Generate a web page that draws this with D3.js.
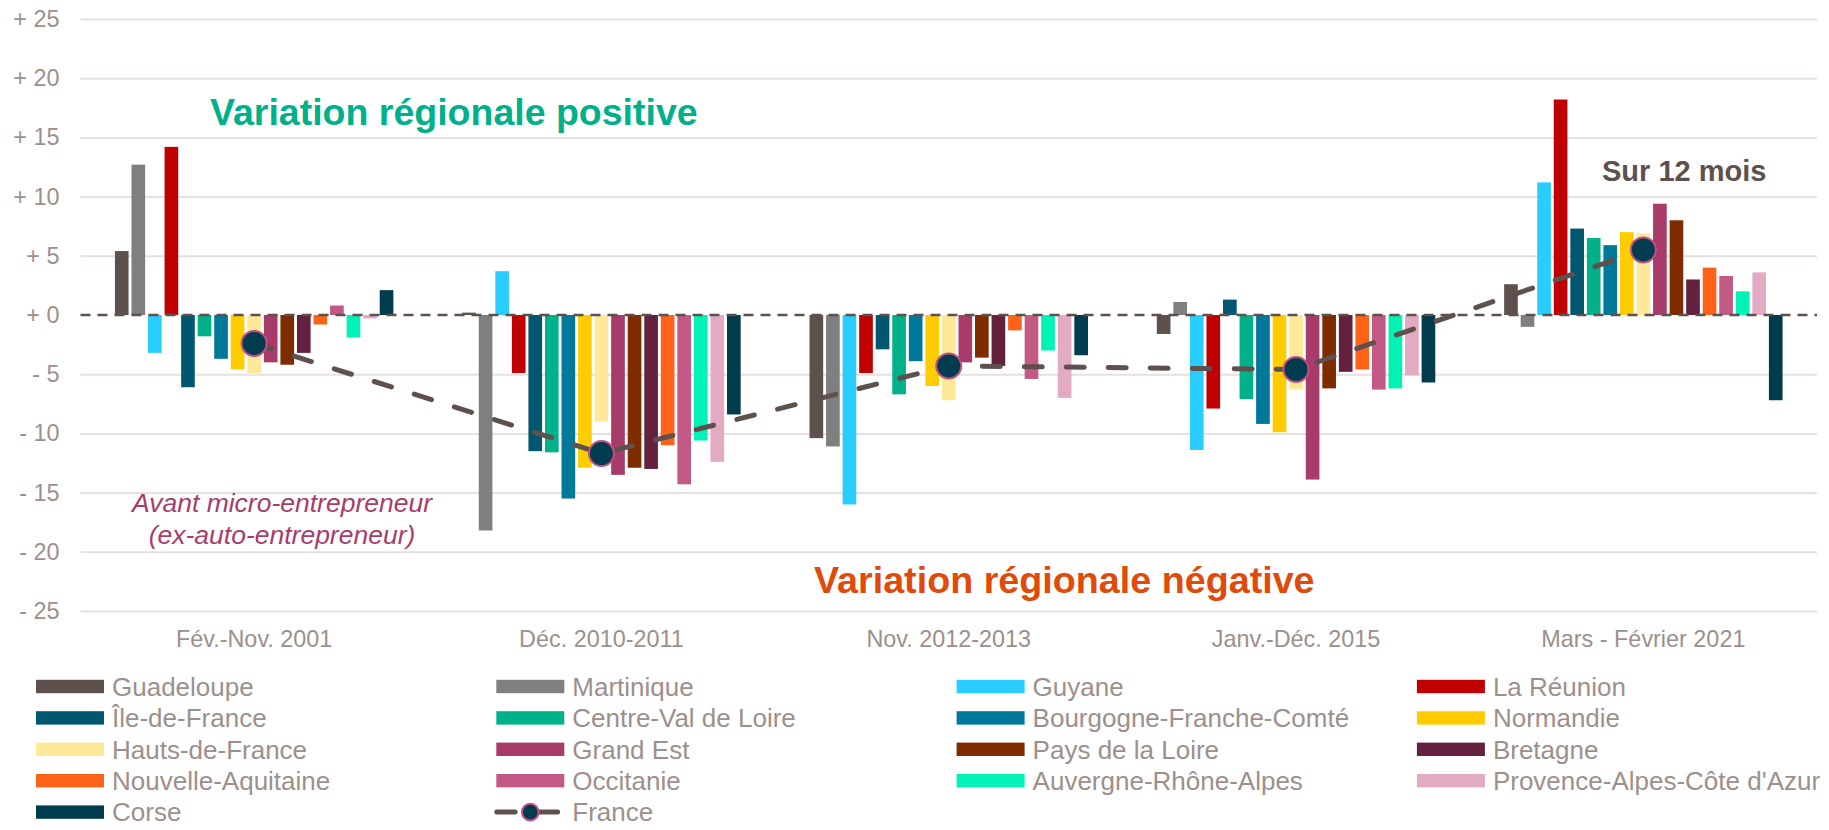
<!DOCTYPE html>
<html lang="fr">
<head>
<meta charset="utf-8">
<title>Variation régionale</title>
<script src="https://cdn.jsdelivr.net/npm/d3@7"></script>
<style>
    html, body { margin: 0; padding: 0; background: #fff; }
    svg { display: block; font-family: 'Liberation Sans', Arial, sans-serif; }
</style>
</head>
<body>
<div id="chart"></div>
<script>
// data (%)
const categories = ['Fév.-Nov. 2001', 'Déc. 2010-2011', 'Nov. 2012-2013', 'Janv.-Déc. 2015', 'Mars - Février 2021'];
const regions = [
    'Guadeloupe', 'Martinique', 'Guyane', 'La Réunion',
    'Île-de-France', 'Centre-Val de Loire', 'Bourgogne-Franche-Comté', 'Normandie',
    'Hauts-de-France', 'Grand Est', 'Pays de la Loire', 'Bretagne',
    'Nouvelle-Aquitaine', 'Occitanie', 'Auvergne-Rhône-Alpes', "Provence-Alpes-Côte d'Azur",
    'Corse',
];
const values2001 = [5.4, 12.7, -3.2, 14.2, -6.1, -1.8, -3.7, -4.6, -4.9, -4.0, -4.2, -3.2, -0.8, 0.8, -1.9, -0.3, 2.1];
const values2011 = [0.2, -18.2, 3.7, -4.9, -11.5, -11.6, -15.5, -12.9, -9.0, -13.5, -12.9, -13.0, -11.0, -14.3, -10.6, -12.4, -8.4];
const values2013 = [-10.4, -11.1, -16.0, -4.9, -2.9, -6.7, -3.9, -6.0, -7.2, -4.0, -3.6, -4.3, -1.3, -5.4, -3.0, -7.0, -3.4];
const values2015 = [-1.6, 1.1, -11.4, -7.9, 1.3, -7.1, -9.2, -9.9, -6.3, -13.9, -6.2, -4.8, -4.6, -6.3, -6.2, -5.1, -5.7];
const values2021 = [2.6, -1.0, 11.2, 18.2, 7.3, 6.5, 5.9, 7.0, 6.9, 9.4, 8.0, 3.0, 4.0, 3.3, 2.0, 3.6, -7.2];
const france = [-2.4, -11.7, -4.3, -4.6, 5.5];
const yTicks = [25, 20, 15, 10, 5, 0, -5, -10, -15, -20, -25];

// styles
const regionColors = [
    '#5e514d', '#7f7f7f', '#29cdff', '#c00000',
    '#00576f', '#00b18a', '#00789a', '#ffcc00',
    '#ffe999', '#a83b69', '#7f2b00', '#63203f',
    '#ff6219', '#c35985', '#00f2b6', '#e2abc3',
    '#003b4e',
];
const textColor = '#9d8f8b';
const lineColor = '#5e514d';

class RegionChart {
    outerWidth = 1829;
    outerHeight = 830;
    plot = {
        left: 80.5, right: 1817, top: 19, bottom: 611,
    };

    constructor(node) {
        this.container = d3.select(node);
        this.container.selectAll('*').remove();
        this.svg = this.container.append('svg')
            .attr('width', this.outerWidth)
            .attr('height', this.outerHeight);
    }

    setScales = () => {
        const {
            left, right, top, bottom,
        } = this.plot;
        this.x0 = d3.scaleBand()
            .domain(categories)
            .range([left, right]);
        this.x1 = d3.scaleBand()
            .domain(regions)
            .range([0, this.x0.bandwidth()])
            .paddingInner(0.175)
            .paddingOuter(2.08);
        this.y = d3.scaleLinear()
            .domain([-25, 25])
            .range([bottom, top]);
    };

    drawAxes = () => {
        const { left, right, bottom } = this.plot;
        const yAxis = d3.axisLeft(this.y)
            .tickValues(yTicks)
            .tickSize(-(right - left))
            .tickPadding(21)
            .tickFormat((d) => `${d < 0 ? '-' : '+'} ${Math.abs(d)}`);
        this.svg.append('g')
            .attr('class', 'axis y')
            .attr('transform', `translate(${left},0)`)
            .call(yAxis)
            .attr('font-family', null)
            .attr('font-size', null)
            .call((g) => g.select('.domain').remove())
            .call((g) => g.selectAll('.tick line')
                .attr('stroke', '#e6e0e0')
                .attr('stroke-width', 2)
                .filter((d) => d === 0)
                .remove())
            .call((g) => g.selectAll('.tick text')
                .attr('fill', textColor)
                .attr('font-size', 23.4));

        const xAxis = d3.axisBottom(this.x0)
            .tickSize(0)
            .tickPadding(19);
        this.svg.append('g')
            .attr('class', 'axis x')
            .attr('transform', `translate(0,${bottom})`)
            .call(xAxis)
            .attr('font-family', null)
            .attr('font-size', null)
            .call((g) => g.select('.domain').remove())
            .call((g) => g.selectAll('.tick text')
                .attr('fill', textColor)
                .attr('font-size', 23.4));
    };

    drawBars = () => {
        const periods = [values2001, values2011, values2013, values2015, values2021];
        const groups = this.svg.append('g')
            .attr('class', 'bars')
            .selectAll('g')
            .data(categories.map((key, i) => ({ key, values: periods[i] })))
            .join('g')
            .attr('transform', (d) => `translate(${this.x0(d.key)},0)`);

        groups.selectAll('rect')
            .data((d) => d.values.map((value, i) => ({ region: regions[i], value, color: regionColors[i] })))
            .join('rect')
            .attr('x', (d) => this.x1(d.region))
            .attr('width', this.x1.bandwidth())
            .attr('y', (d) => this.y(Math.max(0, d.value)))
            .attr('height', (d) => Math.abs(this.y(d.value) - this.y(0)))
            .attr('fill', (d) => d.color);

        // dashed zero line sits over the bars
        const { left, right } = this.plot;
        this.svg.append('line')
            .attr('x1', left)
            .attr('x2', right)
            .attr('y1', this.y(0))
            .attr('y2', this.y(0))
            .attr('stroke', lineColor)
            .attr('stroke-width', 2.5)
            .attr('stroke-dasharray', '10,7');
    };

    drawFrance = () => {
        const cx = (i) => this.x0(categories[i]) + this.x0.bandwidth() / 2;
        const line = d3.line()
            .x((d, i) => cx(i))
            .y((d) => this.y(d));
        this.svg.append('path')
            .datum(france)
            .attr('d', line)
            .attr('fill', 'none')
            .attr('stroke', lineColor)
            .attr('stroke-width', 5)
            .attr('stroke-linecap', 'round')
            .attr('stroke-dasharray', '18,24');
        this.svg.append('g')
            .selectAll('circle')
            .data(france)
            .join('circle')
            .attr('cx', (d, i) => cx(i))
            .attr('cy', (d) => this.y(d))
            .attr('r', 12.5)
            .attr('fill', '#003b4f')
            .attr('stroke', '#c0507f')
            .attr('stroke-width', 2);
    };

    drawNotes = () => {
        const notes = this.svg.append('g').attr('class', 'notes');
        notes.append('text')
            .attr('x', 210)
            .attr('y', 125)
            .attr('font-size', 37.5)
            .attr('font-weight', 'bold')
            .attr('fill', '#00b08a')
            .text('Variation régionale positive');
        notes.append('text')
            .attr('x', 814)
            .attr('y', 592.5)
            .attr('font-size', 37.7)
            .attr('font-weight', 'bold')
            .attr('fill', '#e04b0b')
            .text('Variation régionale négative');
        notes.append('text')
            .attr('x', 1602)
            .attr('y', 181)
            .attr('font-size', 29)
            .attr('font-weight', 'bold')
            .attr('fill', lineColor)
            .text('Sur 12 mois');
        notes.append('text')
            .attr('x', 282)
            .attr('text-anchor', 'middle')
            .attr('font-size', 26.5)
            .attr('font-style', 'italic')
            .attr('fill', '#a63d6c')
            .selectAll('tspan')
            .data(['Avant micro-entrepreneur', '(ex-auto-entrepreneur)'])
            .join('tspan')
            .attr('x', 282)
            .attr('y', (d, i) => 512 + i * 32)
            .text((d) => d);
    };

    drawLegend = () => {
        const items = regions.map((label, i) => ({ label, color: regionColors[i], type: 'bar' }))
            .concat([{ label: 'France', type: 'line' }]);
        const colWidth = 460.3;
        const rowHeight = 31.4;
        const legend = this.svg.append('g').attr('class', 'legend');
        const item = legend.selectAll('g')
            .data(items)
            .join('g')
            .attr('transform', (d, i) => `translate(${36 + (i % 4) * colWidth},${686.5 + Math.floor(i / 4) * rowHeight})`);

        item.filter((d) => d.type === 'bar')
            .append('rect')
            .attr('x', 0)
            .attr('y', -6.7)
            .attr('width', 68)
            .attr('height', 13.4)
            .attr('fill', (d) => d.color);

        const lineItem = item.filter((d) => d.type === 'line');
        lineItem.append('line')
            .attr('x1', 0.5)
            .attr('x2', 62)
            .attr('stroke', lineColor)
            .attr('stroke-width', 5)
            .attr('stroke-linecap', 'round')
            .attr('stroke-dasharray', '18.3,24.2');
        lineItem.append('circle')
            .attr('cx', 34)
            .attr('r', 8.3)
            .attr('fill', '#003b4f')
            .attr('stroke', '#c0507f')
            .attr('stroke-width', 2);

        item.append('text')
            .attr('x', 76)
            .attr('y', 9.2)
            .attr('font-size', 26)
            .attr('fill', textColor)
            .text((d) => d.label);
    };

    render = () => {
        this.setScales();
        this.drawAxes();
        this.drawBars();
        this.drawFrance();
        this.drawNotes();
        this.drawLegend();
        return this;
    };
}

new RegionChart('#chart').render();
</script>
</body>
</html>
